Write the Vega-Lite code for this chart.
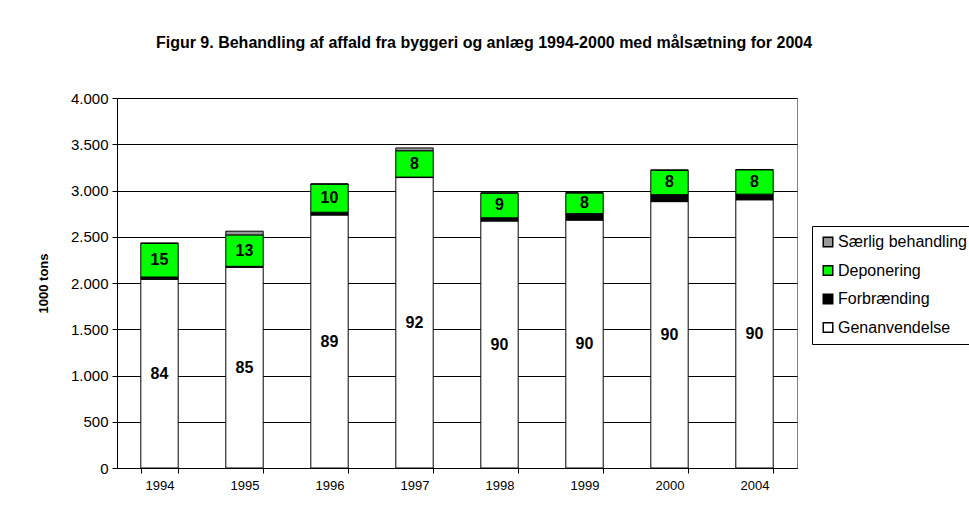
{
  "$schema": "https://vega.github.io/schema/vega-lite/v6.json",
  "width": 680,
  "height": 370,
  "autosize": {"type": "none"},
  "padding": {"left": 117, "top": 98, "right": 172, "bottom": 54},
  "background": "white",
  "title": {
    "text": "Figur 9. Behandling af affald fra byggeri og anlæg 1994-2000 med målsætning for 2004",
    "font": "Liberation Sans",
    "fontSize": 16,
    "fontWeight": "bold",
    "color": "black",
    "anchor": "middle",
    "frame": "group",
    "dx": 27,
    "offset": 40
  },
  "config": {
    "font": "Liberation Sans",
    "view": {"stroke": "#808080", "strokeWidth": 1}
  },
  "data": {
    "values": [
      {"year": "1994", "cat": "Genanvendelse", "value": 2040, "pct": 84},
      {"year": "1994", "cat": "Forbrænding", "value": 25, "pct": null},
      {"year": "1994", "cat": "Deponering", "value": 365, "pct": 15},
      {"year": "1994", "cat": "Særlig behandling", "value": 0, "pct": null},
      {"year": "1995", "cat": "Genanvendelse", "value": 2170, "pct": 85},
      {"year": "1995", "cat": "Forbrænding", "value": 10, "pct": null},
      {"year": "1995", "cat": "Deponering", "value": 340, "pct": 13},
      {"year": "1995", "cat": "Særlig behandling", "value": 40, "pct": null},
      {"year": "1996", "cat": "Genanvendelse", "value": 2735, "pct": 89},
      {"year": "1996", "cat": "Forbrænding", "value": 30, "pct": null},
      {"year": "1996", "cat": "Deponering", "value": 305, "pct": 10},
      {"year": "1996", "cat": "Særlig behandling", "value": 0, "pct": null},
      {"year": "1997", "cat": "Genanvendelse", "value": 3140, "pct": 92},
      {"year": "1997", "cat": "Forbrænding", "value": 5, "pct": null},
      {"year": "1997", "cat": "Deponering", "value": 285, "pct": 8},
      {"year": "1997", "cat": "Særlig behandling", "value": 30, "pct": null},
      {"year": "1998", "cat": "Genanvendelse", "value": 2670, "pct": 90},
      {"year": "1998", "cat": "Forbrænding", "value": 35, "pct": null},
      {"year": "1998", "cat": "Deponering", "value": 268, "pct": 9},
      {"year": "1998", "cat": "Særlig behandling", "value": 0, "pct": null},
      {"year": "1999", "cat": "Genanvendelse", "value": 2680, "pct": 90},
      {"year": "1999", "cat": "Forbrænding", "value": 70, "pct": null},
      {"year": "1999", "cat": "Deponering", "value": 225, "pct": 8},
      {"year": "1999", "cat": "Særlig behandling", "value": 0, "pct": null},
      {"year": "2000", "cat": "Genanvendelse", "value": 2880, "pct": 90},
      {"year": "2000", "cat": "Forbrænding", "value": 75, "pct": null},
      {"year": "2000", "cat": "Deponering", "value": 265, "pct": 8},
      {"year": "2000", "cat": "Særlig behandling", "value": 0, "pct": null},
      {"year": "2004", "cat": "Genanvendelse", "value": 2900, "pct": 90},
      {"year": "2004", "cat": "Forbrænding", "value": 60, "pct": null},
      {"year": "2004", "cat": "Deponering", "value": 265, "pct": 8},
      {"year": "2004", "cat": "Særlig behandling", "value": 0, "pct": null}
    ]
  },
  "transform": [
    {"calculate": "indexof(['Genanvendelse','Forbrænding','Deponering','Særlig behandling'], datum.cat)", "as": "ord"},
    {"stack": "value", "groupby": ["year"], "sort": [{"field": "ord", "order": "ascending"}], "as": ["v0", "v1"]},
    {"calculate": "(datum.v0 + datum.v1) / 2", "as": "mid"}
  ],
  "encoding": {
    "x": {
      "field": "year",
      "type": "ordinal",
      "scale": {"paddingInner": 0.56, "paddingOuter": 0.28},
      "axis": {
        "title": null,
        "labelAngle": 0,
        "labelFont": "Liberation Sans",
        "labelFontSize": 13,
        "labelColor": "black",
        "labelPadding": 6,
        "tickBand": "extent",
        "tickColor": "black",
        "tickSize": 5,
        "domainColor": "black",
        "grid": false
      }
    }
  },
  "layer": [
    {
      "mark": {"type": "bar", "stroke": "black", "strokeWidth": 1},
      "encoding": {
        "y": {
          "field": "v0",
          "type": "quantitative",
          "scale": {"domain": [0, 4000], "nice": false},
          "axis": {
            "title": "1000 tons",
            "titleFont": "Liberation Sans",
            "titleFontSize": 13,
            "titleFontWeight": "bold",
            "titleColor": "black",
            "titlePadding": 20,
            "values": [0, 500, 1000, 1500, 2000, 2500, 3000, 3500, 4000],
            "labelExpr": "replace(format(datum.value, ',d'), ',', '.')",
            "labelFont": "Liberation Sans",
            "labelFontSize": 15,
            "labelColor": "black",
            "labelPadding": 4,
            "tickColor": "black",
            "tickSize": 5,
            "domainColor": "black",
            "grid": true,
            "gridColor": "black",
            "gridOpacity": 1,
            "gridWidth": 1
          }
        },
        "y2": {"field": "v1"},
        "color": {
          "field": "cat",
          "type": "nominal",
          "scale": {
            "domain": ["Særlig behandling", "Deponering", "Forbrænding", "Genanvendelse"],
            "range": ["#999999", "#00FF00", "#000000", "#FFFFFF"]
          },
          "legend": {
            "title": null,
            "orient": "none",
            "legendX": 695,
            "legendY": 128,
            "symbolType": "square",
            "symbolSize": 90,
            "symbolStrokeColor": "black",
            "symbolStrokeWidth": 1.5,
            "labelFont": "Liberation Sans",
            "labelFontSize": 16,
            "labelColor": "black",
            "labelOffset": 2,
            "rowPadding": 12.5,
            "strokeColor": "black",
            "padding": 8,
            "fillColor": "white"
          }
        }
      }
    },
    {
      "transform": [{"filter": "datum.pct != null"}],
      "mark": {"type": "text", "font": "Liberation Sans", "fontSize": 16, "fontWeight": "bold", "color": "black", "baseline": "middle"},
      "encoding": {
        "y": {"field": "mid", "type": "quantitative"},
        "text": {"field": "pct", "type": "quantitative"}
      }
    }
  ]
}
